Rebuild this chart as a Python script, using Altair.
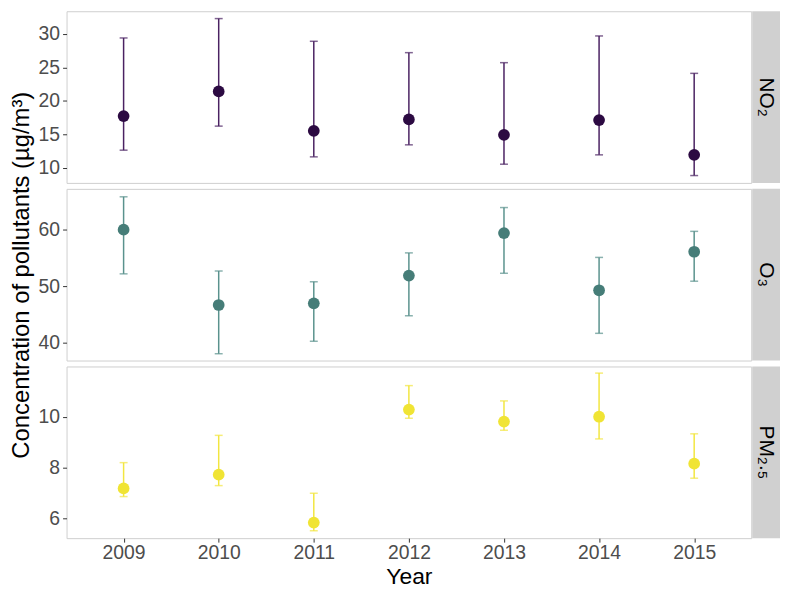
import altair as alt
import pandas as pd

years = ["2009", "2010", "2011", "2012", "2013", "2014", "2015"]

no2_mean = [17.7, 21.4, 15.5, 17.2, 14.9, 17.1, 11.9]
no2_low = [12.6, 16.2, 11.6, 13.4, 10.5, 11.9, 8.8]
no2_high = [29.4, 32.3, 28.9, 27.2, 25.7, 29.7, 24.1]

o3_mean = [60.0, 46.7, 47.0, 51.9, 59.4, 49.3, 56.1]
o3_low = [52.2, 38.1, 40.3, 44.8, 52.3, 41.7, 50.9]
o3_high = [65.8, 52.7, 50.8, 55.9, 63.9, 55.1, 59.7]

pm_mean = [7.19, 7.73, 5.85, 10.28, 9.81, 10.0, 8.16]
pm_low = [6.87, 7.30, 5.53, 9.94, 9.47, 9.13, 7.59]
pm_high = [8.20, 9.27, 7.00, 11.22, 10.62, 11.71, 9.33]

pollutants = ["NO₂", "O₃", "PM₂.₅"]
point_colors = ["#2C0A42", "#467D78", "#F0E434"]
bar_colors = ["#4A2262", "#5A928D", "#F2E640"]
domains = [[7.7, 33.4], [36.9, 67.2], [5.24, 11.97]]
tick_values = [[10, 15, 20, 25, 30], [40, 50, 60], [6, 8, 10]]

Y_TITLE = "Concentration of pollutants (µg/m³)"
FONT = "Liberation Sans"
W, H = 690, 173


def panel(mean, low, high, label, pcol, bcol, domain, ticks, show_x, ytitle):
    df = pd.DataFrame({"year": years, "mean": mean, "low": low, "high": high})
    if show_x:
        xenc = alt.X("year:O", scale=alt.Scale(type="point", padding=0.6),
                     axis=alt.Axis(labelAngle=0, title="Year", labelPadding=2,
                                   titlePadding=3, titleFontSize=23))
    else:
        xenc = alt.X("year:O", scale=alt.Scale(type="point", padding=0.6), axis=None)
    yscale = alt.Scale(domain=domain, nice=False, zero=False)
    yaxis = alt.Axis(values=ticks, title=ytitle if ytitle else None)
    base = alt.Chart(df)
    rule = base.mark_rule(color=bcol, strokeWidth=1.5).encode(
        x=xenc, y=alt.Y("low:Q", scale=yscale, axis=yaxis), y2="high:Q")
    tlow = base.mark_tick(color=bcol, size=8, thickness=1.5).encode(
        x=xenc, y=alt.Y("low:Q", scale=yscale, axis=yaxis))
    thigh = base.mark_tick(color=bcol, size=8, thickness=1.5).encode(
        x=xenc, y=alt.Y("high:Q", scale=yscale, axis=yaxis))
    pts = base.mark_circle(color=pcol, size=140, opacity=1).encode(
        x=xenc, y=alt.Y("mean:Q", scale=yscale, axis=yaxis))
    sdf = pd.DataFrame({"label": [label]})
    strip = alt.Chart(sdf).mark_rect(color="#D0D0D0").encode(
        x=alt.value(W + 1), x2=alt.value(W + 29), y=alt.value(0), y2=alt.value(H))
    stext = alt.Chart(sdf).mark_text(angle=90, fontSize=21, font=FONT, color="black",
                                     align="center", baseline="middle").encode(
        x=alt.value(W + 15), y=alt.value(H / 2), text="label:N")
    return alt.layer(rule, tlow, thigh, pts, strip, stext).properties(width=W, height=H)


p1 = panel(no2_mean, no2_low, no2_high, pollutants[0], point_colors[0], bar_colors[0],
           domains[0], tick_values[0], False, "")
p2 = panel(o3_mean, o3_low, o3_high, pollutants[1], point_colors[1], bar_colors[1],
           domains[1], tick_values[1], False, Y_TITLE)
p3 = panel(pm_mean, pm_low, pm_high, pollutants[2], point_colors[2], bar_colors[2],
           domains[2], tick_values[2], True, "")

chart = alt.vconcat(p1, p2, p3, spacing=6, bounds="flush").properties(
    padding={"left": 0, "top": 0, "right": 0, "bottom": 0}
).configure_view(
    stroke="#CFCFCF", strokeWidth=1
).configure_axis(
    grid=False, domain=False, tickColor="#333333", tickSize=4, tickWidth=1,
    labelColor="#4D4D4D", labelFontSize=19.5, labelFont=FONT, labelPadding=3,
    titleFont=FONT, titleFontSize=24, titleFontWeight="normal", titleColor="black",
    titlePadding=5
)

chart.save("out.html", embed_options={"renderer": "svg", "actions": False})
